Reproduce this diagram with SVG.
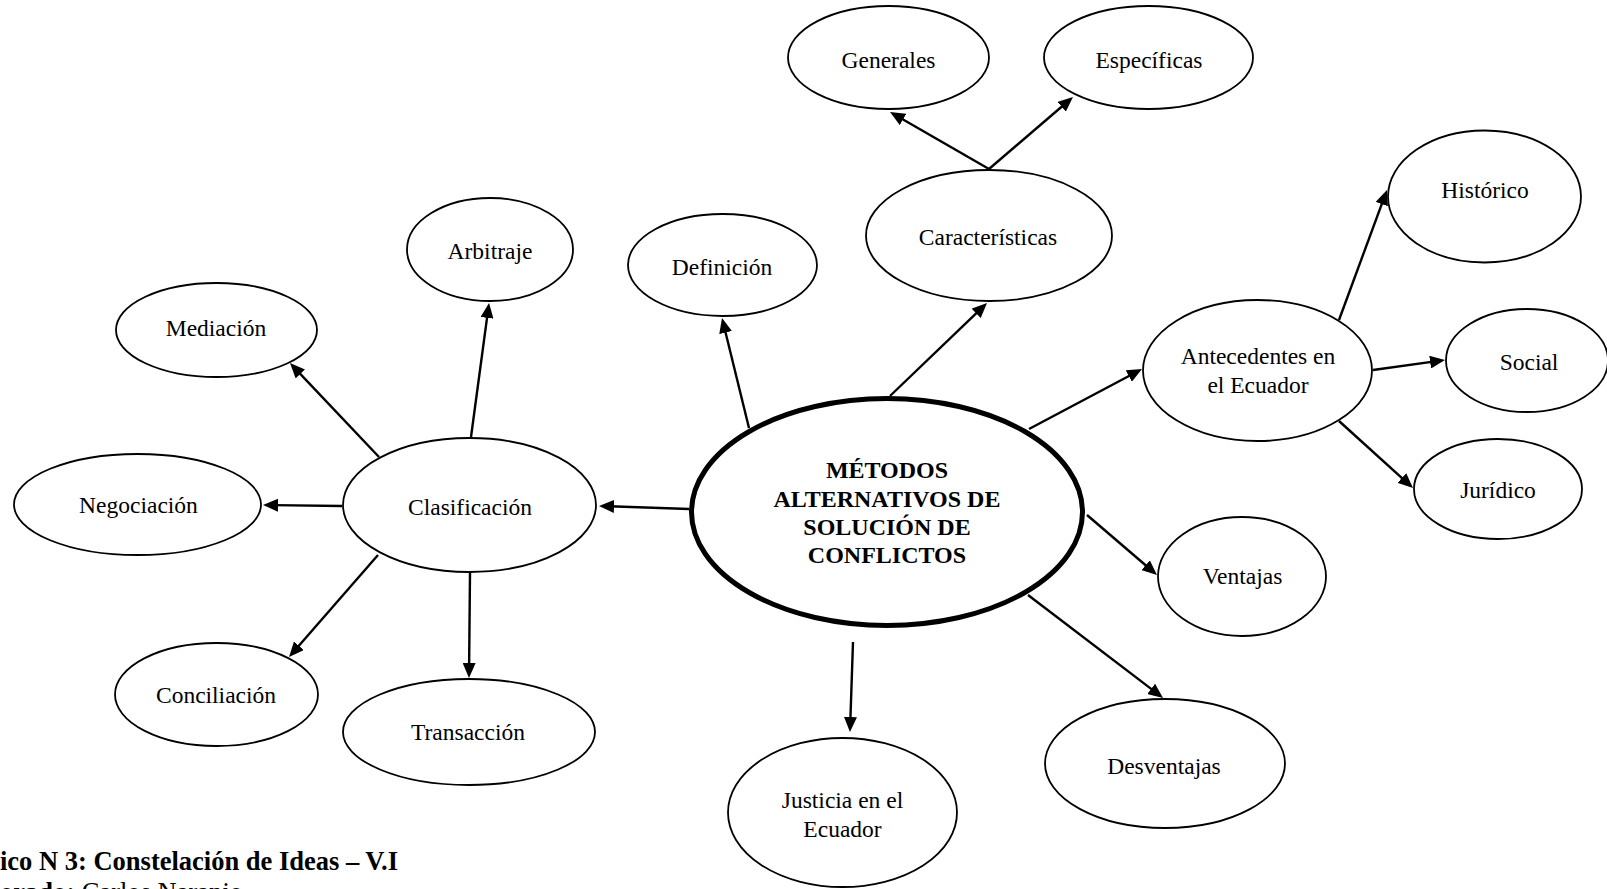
<svg xmlns="http://www.w3.org/2000/svg" width="1607" height="889" viewBox="0 0 1607 889">
  <style>
    .node ellipse { fill: #fff; stroke: #000; stroke-width: 1.8; }
    .node text { font-family: "Liberation Serif", "Times New Roman", serif; font-size: 23.5px; fill: #000; text-anchor: middle; }
    #n-metodos ellipse { stroke-width: 5; }
    #n-metodos text { font-weight: bold; font-size: 24px; }
    .links path { fill: none; stroke: #000; stroke-width: 2.4; marker-end: url(#arrow); }
    .caption { font-family: "Liberation Serif", "Times New Roman", serif; font-size: 26.5px; fill: #000; }
  </style>
  <defs>
    <marker id="arrow" markerUnits="userSpaceOnUse" viewBox="0 0 15 13" markerWidth="15" markerHeight="13" refX="5" refY="6.5" orient="auto">
      <path d="M0,0 L15,6.5 L0,13 z" fill="#000"/>
    </marker>
  </defs>
  <rect width="1607" height="889" fill="#fff"/>

  <!-- connectors -->
  <g class="links">
    <path d="M689,509 L609,506.3"/>
    <path d="M342,506 L273,505.1"/>
    <path d="M379,457 L296.9,370.3"/>
    <path d="M471,437 L487.7,312.9"/>
    <path d="M378,555 L295.6,649.5"/>
    <path d="M470,573 L469.1,668"/>
    <path d="M749,428 L724.4,327.7"/>
    <path d="M890,396 L979.8,309.9"/>
    <path d="M989,169 L898.7,117"/>
    <path d="M989,169 L1065.4,103.5"/>
    <path d="M1029,429 L1133.2,373.7"/>
    <path d="M1339,320 L1383.5,199.4"/>
    <path d="M1373,370 L1435.1,361.4"/>
    <path d="M1339,421 L1405.6,481.3"/>
    <path d="M1087,515 L1149.4,568.5"/>
    <path d="M1028,595 L1155.1,691.9"/>
    <path d="M853,642 L850.3,722"/>
  </g>

  <!-- nodes -->
  <g id="n-metodos" class="node">
    <ellipse cx="887" cy="512" rx="195.5" ry="113.5"/>
    <text x="887" y="478">MÉTODOS</text>
    <text x="887" y="507">ALTERNATIVOS DE</text>
    <text x="887" y="535">SOLUCIÓN DE</text>
    <text x="887" y="563">CONFLICTOS</text>
  </g>
  <g id="n-generales" class="node">
    <ellipse cx="888.5" cy="57.5" rx="100.5" ry="51.5"/>
    <text x="888.5" y="68">Generales</text>
  </g>
  <g id="n-especificas" class="node">
    <ellipse cx="1148.5" cy="57.5" rx="104.5" ry="51.5"/>
    <text x="1149" y="68">Específicas</text>
  </g>
  <g id="n-caracteristicas" class="node">
    <ellipse cx="989" cy="235.5" rx="123" ry="65.5"/>
    <text x="988" y="245">Características</text>
  </g>
  <g id="n-arbitraje" class="node">
    <ellipse cx="490" cy="249.5" rx="83" ry="51.5"/>
    <text x="490" y="259">Arbitraje</text>
  </g>
  <g id="n-definicion" class="node">
    <ellipse cx="722.5" cy="265" rx="94.5" ry="51"/>
    <text x="722" y="275">Definición</text>
  </g>
  <g id="n-mediacion" class="node">
    <ellipse cx="216.5" cy="330" rx="100.5" ry="47"/>
    <text x="216" y="336">Mediación</text>
  </g>
  <g id="n-negociacion" class="node">
    <ellipse cx="137.5" cy="504.5" rx="123.5" ry="50.5"/>
    <text x="138.5" y="513">Negociación</text>
  </g>
  <g id="n-clasificacion" class="node">
    <ellipse cx="469.5" cy="505" rx="126.5" ry="67"/>
    <text x="470" y="515">Clasificación</text>
  </g>
  <g id="n-conciliacion" class="node">
    <ellipse cx="216.5" cy="694.5" rx="101.5" ry="51.5"/>
    <text x="216" y="703">Conciliación</text>
  </g>
  <g id="n-transaccion" class="node">
    <ellipse cx="469" cy="732" rx="126" ry="53"/>
    <text x="468" y="740">Transacción</text>
  </g>
  <g id="n-historico" class="node">
    <ellipse cx="1484.5" cy="196.5" rx="96.5" ry="66"/>
    <text x="1485" y="198">Histórico</text>
  </g>
  <g id="n-antecedentes" class="node">
    <ellipse cx="1257.5" cy="370.5" rx="114.5" ry="70.5"/>
    <text x="1258" y="364">Antecedentes en</text>
    <text x="1258" y="393">el Ecuador</text>
  </g>
  <g id="n-social" class="node">
    <ellipse cx="1527" cy="360.5" rx="81" ry="51.5"/>
    <text x="1529" y="370">Social</text>
  </g>
  <g id="n-juridico" class="node">
    <ellipse cx="1498" cy="489" rx="84" ry="50"/>
    <text x="1498" y="498">Jurídico</text>
  </g>
  <g id="n-ventajas" class="node">
    <ellipse cx="1242" cy="576.5" rx="84" ry="59.5"/>
    <text x="1242.5" y="584">Ventajas</text>
  </g>
  <g id="n-desventajas" class="node">
    <ellipse cx="1165" cy="763.5" rx="120" ry="64.5"/>
    <text x="1164" y="774">Desventajas</text>
  </g>
  <g id="n-justicia" class="node">
    <ellipse cx="842.5" cy="812.5" rx="114.5" ry="74.5"/>
    <text x="842.5" y="808">Justicia en el</text>
    <text x="842.5" y="837">Ecuador</text>
  </g>

  <!-- caption -->
  <text class="caption" x="0" y="870" font-weight="bold">ico N 3: Constelación de Ideas – V.I</text>
  <text class="caption" x="0" y="901"><tspan font-weight="bold">orado:</tspan> Carlos Naranjo</text>
</svg>
